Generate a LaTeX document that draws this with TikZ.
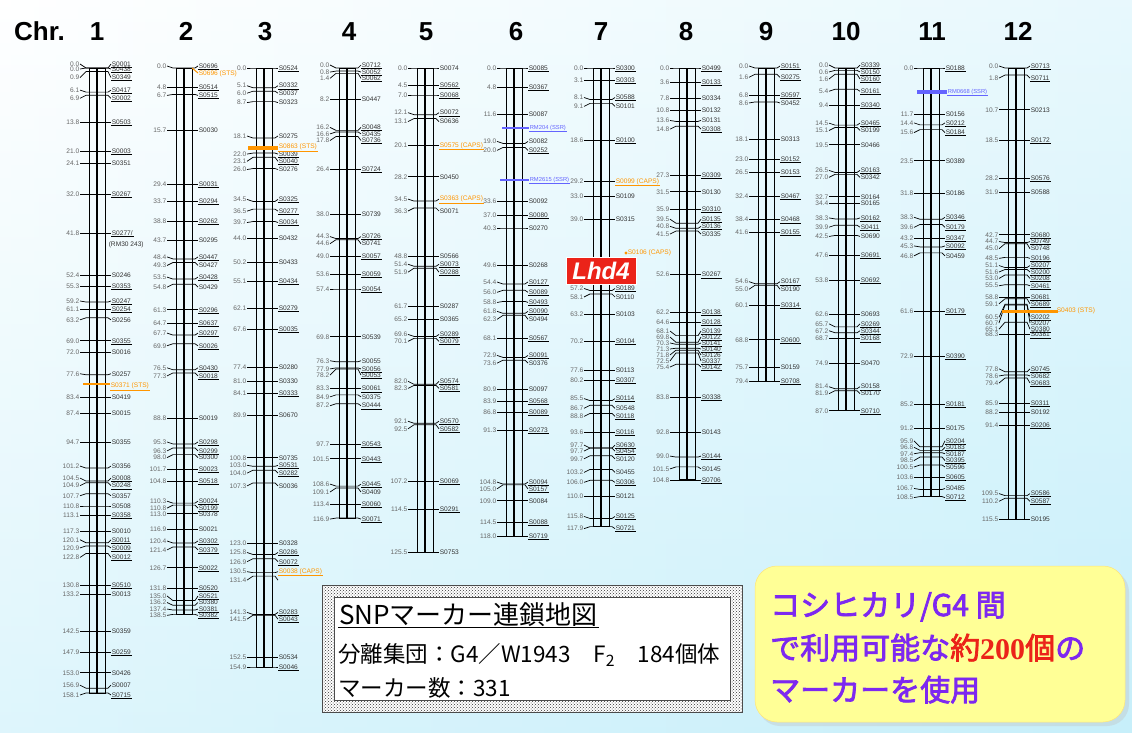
\documentclass[tikz,border=0pt]{standalone}
\usepackage{fontspec}
\setmainfont{Liberation Sans}
\newfontfamily\jp{Noto Sans CJK JP}
\newfontfamily\jpb[FakeBold=2.5]{Noto Sans CJK JP}
\newfontfamily\lserif{Liberation Serif}
\usetikzlibrary{patterns}
\definecolor{orng}{RGB}{255,150,0}
\definecolor{blu}{RGB}{100,100,255}
\definecolor{purp}{RGB}{125,40,240}
\definecolor{redd}{RGB}{235,35,25}
\definecolor{ylw}{RGB}{255,255,150}
\definecolor{bgc}{RGB}{195,238,250}
\tikzset{
  chrbar/.style={draw=black, line width=0.9pt},
  tick/.style={draw=black, line width=0.7pt},
  cmlbl/.style={font=\fontsize{6.6}{7}\selectfont, text=black!60, inner sep=0.6pt},
  mklbl/.style={font=\fontsize{6.6}{7}\selectfont, text=black!80, inner sep=0.6pt},
  sslbl/.style={font=\fontsize{5.8}{6}\selectfont, text=blu, inner sep=0.6pt},
  hdr/.style={font=\fontsize{26}{28}\selectfont\bfseries, text=black, inner sep=0pt},
  special/.style={line width=2.6pt},
}
\newcommand{\chromo}[5]{%
  \pgfmathsetmacro{\yend}{68+#4*#3}%
  \draw[chrbar] ({#2-8},68) rectangle ({#2-0.8},\yend);
  \draw[chrbar] ({#2+0.8},68) rectangle ({#2+8},\yend);
  \foreach \cm/\dy/\mk/\st [count=\i] in {#5}{%
    \pgfmathsetmacro{\yy}{68+\cm*#3}%
    \pgfmathsetmacro{\ly}{\yy+\dy}%
    \draw[tick] ({#2-17},\ly) -- ({#2-11},\yy) -- ({#2+11},\yy) -- ({#2+14},\ly);
    \node[cmlbl, anchor=east] (N#1-\i) at ({#2-17},\ly) {\cm};
    \if\st o%
      \node[mklbl, text=orng, anchor=west] (M#1-\i) at ({#2+14},\ly) {\mk};
      \draw[orng, line width=0.6pt] (M#1-\i.south west) -- (M#1-\i.south east);
    \else
      \node[mklbl, anchor=west] (M#1-\i) at ({#2+14},\ly) {\mk};
      \if\st u%
        \draw[line width=0.6pt] (M#1-\i.south west) -- (M#1-\i.south east);
      \fi
    \fi
  }%
}
\begin{document}
\begin{tikzpicture}[x=1pt,y=-1pt]
\useasboundingbox (0,0) rectangle (1132,733);
\shade[left color=white, right color=bgc!85] (0,0) rectangle (1132,733);
\shade[top color=white, bottom color=bgc, opacity=0.55] (0,0) rectangle (1132,733);

% header
\node[hdr, anchor=base west] (chr) at (14,41) {Chr.};
\foreach \n/\x in {1/97,2/186,3/265,4/349,5/426,6/516,7/601,8/686,9/766,10/846,11/932,12/1018}
  \node[hdr, anchor=base] (h\n) at (\x,41) {\n};

% chromosome 1
\chromo{1}{97}{3.953}{158.1}{0.0/-4/S0001/u, 0.0/1/S0438/u, 0.9/6/S0349/u, 6.1/-2/S0417/u, 6.9/3/S0002/u, 13.8/0/S0503/u, 21.0/0/S0003/u, 24.1/0/S0351/n, 32.0/0/S0267/u, 41.8/0/{S0277/}/u, 52.4/0/S0246/n, 55.3/0/S0353/u, 59.2/-1/S0247/u, 61.1/0/S0254/u, 63.2/2/S0256/n, 69.0/0/S0355/u, 72.0/0/S0016/n, 77.6/-1/S0257/n, 83.4/0/S0419/n, 87.4/0/S0015/n, 94.7/0/S0355/n, 101.2/-2/S0356/n, 104.5/-3/S0008/u, 104.9/3/S0248/u, 107.7/2/S0357/n, 110.8/0/S0508/n, 113.1/0/S0358/u, 117.3/0/S0010/n, 120.1/-3/S0011/u, 120.9/2/S0009/u, 122.8/4/S0012/u, 130.8/0/S0510/u, 133.2/0/S0013/n, 142.5/0/S0359/n, 147.9/0/S0259/u, 153.0/0/S0426/n, 156.9/-3/S0007/n, 158.1/2/S0715/u}
\node[mklbl, anchor=west] (rm30) at (108,245) {(RM30 243)};
\draw[orng, special] (83,384) -- (110,384);
\node[mklbl, text=orng, anchor=west] (o1) at (110,386) {S0371 (STS)};
\draw[orng, line width=0.6pt] (o1.south west) -- (o1.south east);

% chromosome 2
\chromo{2}{184}{3.945}{138.5}{0.0/-2/S0696/u, 4.8/0/S0514/u, 6.7/1/S0515/u, 15.7/0/S0030/n, 29.4/0/S0031/u, 33.7/0/S0294/u, 38.8/0/S0262/u, 43.7/0/S0295/n, 48.4/-2/S0447/u, 49.3/3/S0427/n, 53.5/-2/S0428/u, 54.8/3/S0429/n, 61.3/0/S0296/u, 64.7/0/S0637/u, 67.7/-2/S0297/u, 69.9/2/S0026/u, 76.5/-2/S0430/u, 77.3/3/S0018/u, 88.8/0/S0019/n, 95.3/-2/S0298/u, 96.3/3/S0299/u, 98.0/3/S0300/n, 101.7/0/S0023/u, 104.8/0/S0518/u, 110.3/-2/S0024/u, 110.8/3/S0199/u, 113.0/0/S0378/n, 116.9/0/S0021/n, 120.4/-2/S0302/u, 121.4/3/S0379/u, 126.7/0/S0022/u, 131.8/0/S0520/u, 135.0/-4.6/S0521/u, 136.2/-2.8/S0380/n, 137.4/-1/S0381/u, 138.5/1/S0382/u}
\draw[orng, line width=1pt] (192,68) -- (198,73);
\node[mklbl, text=orng, anchor=west] (o2) at (198,74) {S0696 (STS)};

% chromosome 3
\chromo{3}{264}{3.867}{154.9}{0.0/0/S0524/u, 5.1/-2/S0332/u, 6.0/2/S0037/n, 8.7/1/S0323/n, 18.1/-2/S0275/n, 22.0/1/S0039/u, 23.1/4/S0040/u, 26.0/1/S0276/n, 34.5/-2/S0325/u, 36.5/2/S0277/u, 39.7/1/S0034/u, 44.0/0/S0432/n, 50.2/0/S0433/n, 55.1/0/S0434/u, 62.1/0/S0279/u, 67.6/0/S0035/u, 77.4/0/S0280/n, 81.0/0/S0330/n, 84.1/0/S0333/u, 89.9/0/S0670/n, 100.8/0/S0735/n, 103.0/-1/S0531/u, 104.0/3/S0282/u, 107.3/3/S0036/n, 123.0/0/S0328/n, 125.8/-2/S0286/u, 126.9/3/S0072/u, 130.5/-1/S0038 (CAPS)/o, 131.4/4//n, 141.3/-2/S0283/u, 141.5/4/S0043/u, 152.5/0/S0534/n, 154.9/0/S0046/u}
\draw[orng, line width=3.2pt] (248,148) -- (278,148);
\node[mklbl, text=orng, anchor=west] (o3) at (278,147) {S0863 (STS)};
\draw[orng, line width=0.6pt] (o3.south west) -- (o3.south east);

% chromosome 4
\chromo{4}{347}{3.85}{116.9}{0.0/-3/S0712/u, 0.8/1/S0052/u, 1.4/5/S0062/u, 8.2/0/S0447/n, 16.2/-3/S0048/u, 16.6/2/S0435/n, 17.8/4/S0736/u, 26.4/0/S0724/u, 38.0/0/S0739/n, 44.3/-2/S0726/u, 44.6/4/S0741/n, 49.0/0/S0057/u, 53.6/0/S0059/u, 57.4/0/S0054/u, 69.8/0/S0539/n, 76.3/-1/S0055/n, 77.9/1/S0056/u, 78.2/6/S0053/u, 83.3/0/S0061/u, 84.9/2/S0375/n, 87.2/2/S0444/u, 97.7/0/S0543/u, 101.5/0/S0443/u, 108.6/-2/S0445/u, 109.1/4/S0409/n, 113.4/0/S0060/u, 116.9/1/S0071/u}

% chromosome 5
\chromo{5}{425}{3.857}{125.5}{0.0/0/S0074/n, 4.5/0/S0562/u, 7.0/0/S0068/u, 12.1/-2/S0072/u, 13.1/3/S0636/n, 20.1/0/S0575 (CAPS)/o, 28.2/0/S0450/n, 34.5/-2/S0363 (CAPS)/o, 36.3/3/S0071/n, 48.8/0/S0566/n, 51.4/-2/S0073/u, 51.9/4/S0288/u, 61.7/0/S0287/n, 65.2/0/S0365/n, 69.6/-2/S0289/u, 70.1/3/S0079/u, 82.0/-3/S0574/u, 82.3/3/S0581/u, 92.1/-2/S0570/u, 92.5/4/S0582/u, 107.2/0/S0069/u, 114.5/0/S0291/u, 125.5/0/S0753/n}

% chromosome 6
\chromo{6}{514}{3.97}{118.0}{0.0/0/S0085/u, 4.8/0/S0367/u, 11.6/0/S0087/n, 19.0/-2/S0082/n, 20.0/3/S0252/u, 33.6/0/S0092/n, 37.0/0/S0080/u, 40.3/0/S0270/n, 49.6/0/S0268/n, 54.4/-2/S0127/u, 56.0/2/S0089/u, 58.8/1/S0493/u, 61.8/-2/S0090/u, 62.3/4/S0494/n, 68.1/0/S0567/u, 72.9/-2/S0091/u, 73.6/3/S0376/n, 80.9/0/S0097/n, 83.9/0/S0568/u, 86.8/0/S0089/u, 91.3/0/S0273/u, 104.8/-2/S0094/u, 105.0/4/S0157/u, 109.0/0/S0084/n, 114.5/0/S0088/u, 118.0/0/S0719/u}
\draw[blu, special] (502,128) -- (529,128);
\node[sslbl, anchor=west] (b1) at (529,128) {RM204 (SSR)};
\draw[blu, line width=0.6pt] (b1.south west) -- (b1.south east);
\draw[blu, special] (500,180) -- (529,180);
\node[sslbl, anchor=west] (b2) at (529,180) {RM2615 (SSR)};
\draw[blu, line width=0.6pt] (b2.south west) -- (b2.south east);

% chromosome 7
\chromo{7}{601}{3.89}{117.9}{0.0/0/S0300/u, 3.1/0/S0303/u, 8.1/-2/S0588/u, 9.1/3/S0101/n, 18.6/0/S0100/u, 29.2/0/S0099 (CAPS)/o, 33.0/0/S0109/n, 39.0/0/S0315/n, 57.2/-2/S0189/u, 58.1/3/S0110/n, 63.2/0/S0103/n, 70.2/0/S0104/u, 77.6/0/S0113/n, 80.2/0/S0307/u, 85.5/-2/S0114/u, 86.7/3/S0548/n, 88.8/3/S0118/u, 93.6/0/S0116/u, 97.7/-3/S0630/u, 97.7/3/S0454/u, 99.7/3/S0120/n, 103.2/3/S0455/n, 106.0/2/S0306/u, 110.0/0/S0121/n, 115.8/-2/S0125/u, 117.9/2/S0721/u}
\fill[orng] (626,253) circle (1.6);
\node[mklbl, text=orng, anchor=west] (o7) at (627,253) {S0106 (CAPS)};
\node[fill=redd, draw=white, line width=0.8pt, minimum width=70pt, minimum height=27pt, inner sep=0pt,
      font=\fontsize{24}{24}\selectfont\bfseries\itshape, text=white] (lhd) at (601,271) {Lhd4};

% chromosome 8
\chromo{8}{687}{3.93}{104.8}{0.0/0/S0499/u, 3.6/0/S0133/u, 7.8/0/S0334/n, 10.8/0/S0132/n, 13.6/-1/S0131/n, 14.8/3/S0308/u, 27.3/0/S0309/u, 31.5/0/S0130/n, 35.9/0/S0310/u, 39.5/-4/S0135/u, 40.8/-2/S0136/u, 41.5/3/S0335/n, 52.6/0/S0267/u, 62.2/0/S0138/u, 64.6/0/S0128/u, 68.1/-4.6/S0139/u, 69.8/-5.3/S0122/u, 70.3/-1.3/S0141/u, 71.3/0.8/S0140/u, 71.8/4.8/S0126/n, 72.5/8/S0337/u, 75.4/2.7/S0142/u, 83.8/0/S0338/u, 92.8/0/S0143/n, 99.0/-1/S0144/u, 101.5/2/S0145/n, 104.8/0/S0706/u}

% chromosome 9
\chromo{9}{766}{3.95}{79.4}{0.0/-2/S0151/u, 1.6/3/S0275/u, 6.8/0/S0597/u, 8.6/1/S0452/n, 18.1/0/S0313/n, 23.0/0/S0152/u, 26.5/0/S0153/u, 32.4/0/S0467/u, 38.4/0/S0468/u, 41.6/0/S0155/u, 54.6/-2/S0167/u, 55.0/4/S0190/n, 60.1/0/S0314/u, 68.8/0/S0600/u, 75.7/0/S0159/n, 79.4/0/S0708/u}

% chromosome 10
\chromo{10}{846}{3.94}{87.0}{0.0/-3/S0339/u, 0.6/1.6/S0150/u, 1.6/4.7/S0160/u, 5.4/2/S0161/u, 9.4/0/S0340/u, 14.5/-2/S0465/u, 15.1/3/S0199/n, 19.5/0/S0466/n, 26.5/-2/S0163/u, 27.0/3/S0342/n, 32.7/0/S0164/n, 34.4/0/S0165/n, 38.3/-1/S0162/u, 39.9/2/S0411/u, 42.5/1/S0690/n, 47.6/0/S0691/u, 53.8/0/S0692/u, 62.6/0/S0693/n, 65.7/-3/S0269/u, 67.2/-2/S0344/u, 68.7/0/S0168/u, 74.9/0/S0470/n, 81.4/-2/S0158/u, 81.9/3/S0170/n, 87.0/0/S0710/u}

% chromosome 11
\chromo{11}{931}{3.95}{108.5}{0.0/0/S0188/u, 11.7/0/S0156/n, 14.4/-2/S0212/u, 15.6/3/S0184/u, 23.5/0/S0389/n, 31.8/0/S0186/n, 38.3/-2/S0346/u, 39.6/3/S0179/u, 43.2/0/S0347/u, 45.3/-1/S0092/u, 46.8/3/S0459/n, 61.6/0/S0179/u, 72.9/0/S0390/u, 85.2/0/S0181/u, 91.2/0/S0175/n, 95.9/-6/S0204/u, 96.8/-3/S0183/u, 97.4/1/S0187/n, 98.5/3.5/S0395/u, 100.5/2/S0596/n, 103.6/0/S0605/u, 106.7/-1/S0485/n, 108.5/1/S0712/u}
\draw[blu, line width=3.2pt] (917,92) -- (947,92);
\node[sslbl, anchor=west] (b3) at (947,92) {RM0668 (SSR)};
\draw[blu, line width=0.6pt] (b3.south west) -- (b3.south east);

% chromosome 12
\chromo{12}{1016}{3.905}{115.5}{0.0/-2/S0713/u, 1.8/3/S0711/u, 10.7/0/S0213/n, 18.5/0/S0172/u, 28.2/0/S0576/u, 31.9/0/S0588/n, 42.7/0/S0680/u, 44.7/-1/S0749/u, 45.0/5/S0748/n, 48.5/1/S0196/u, 51.1/-2/S0207/u, 51.6/2.5/S0200/u, 53.0/3.5/S0208/u, 55.5/1/S0461/u, 58.8/0/S0681/u, 59.1/5/S0689/u, 60.5/13/S0202/u, 60.7/18/S0207/n, 65.1/7/S0380/u, 68.3/0/S0381/u, 77.8/-3/S0745/u, 78.6/1/S0682/n, 79.4/5/S0683/u, 85.9/0/S0311/u, 88.2/0/S0192/n, 91.4/0/S0206/u, 109.5/-2/S0586/u, 110.2/3/S0587/u, 115.5/0/S0195/n}
\draw[orng, line width=3pt] (1002,311) -- (1058,311);
\node[mklbl, text=orng, anchor=west] (o12) at (1056,311) {S0403 (STS)};

% legend box
\fill[white] (322,585) rectangle (742,712);
\fill[pattern=crosshatch dots, pattern color=black!80] (322,585) rectangle (742,712);
\fill[white] (334,597) rectangle (730,700);
\draw[black!70, line width=0.6pt] (322,585) rectangle (742,712);
\draw[black!70, line width=0.6pt] (334,597) rectangle (730,700);
\node[anchor=base west, inner sep=1pt, font=\jp\fontsize{26}{28}\selectfont] (ttl) at (338,624) {SNPマーカー連鎖地図};
\draw[line width=1pt] (ttl.south west) -- (ttl.south east);
\node[anchor=base west, inner sep=0pt, font=\jp\fontsize{22.5}{24}\selectfont] (pop) at (338,662) {分離集団：G4／W1943　F\textsubscript{2}　184個体};
\node[anchor=base west, inner sep=0pt, font=\jp\fontsize{22.5}{24}\selectfont] (num) at (338,696) {マーカー数：331};

% yellow note
\fill[black!25, opacity=0.35, rounded corners=22pt] (758,570) rectangle (1129,726);
\fill[ylw, draw=ylw!80!orange, line width=0.5pt, rounded corners=22pt] (755,566) rectangle (1125,722);
\node[anchor=base west, inner sep=0pt, text=purp, font=\jpb\fontsize{30}{32}\selectfont] (y1) at (770,616) {コシヒカリ/G4 間};
\node[anchor=base west, inner sep=0pt, text=purp, font=\jpb\fontsize{30}{32}\selectfont] (y2) at (770,659) {で利用可能な\textcolor{redd}{約{\lserif\bfseries 200}個}の};
\node[anchor=base west, inner sep=0pt, text=purp, font=\jpb\fontsize{30}{32}\selectfont] (y3) at (770,701) {マーカーを使用};
\end{tikzpicture}
\end{document}
